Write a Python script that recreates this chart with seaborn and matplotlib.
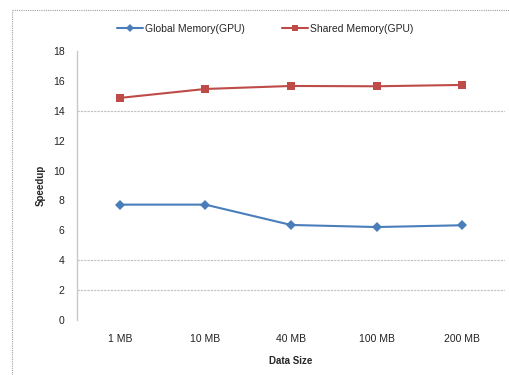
import matplotlib
matplotlib.use("Agg")
import matplotlib.pyplot as plt
import seaborn as sns
import pandas as pd
from matplotlib.lines import Line2D

sizes = ["1 MB", "10 MB", "40 MB", "100 MB", "200 MB"]
global_mem = [7.72, 7.72, 6.36, 6.22, 6.34]
shared_mem = [14.86, 15.46, 15.66, 15.64, 15.73]
y_ticks = [0, 2, 4, 6, 8, 10, 12, 14, 16, 18]

df = pd.DataFrame({
    "Data Size": sizes * 2,
    "Speedup": global_mem + shared_mem,
    "series": ["Global Memory(GPU)"] * 5 + ["Shared Memory(GPU)"] * 5,
})

sns.set_style("white")
plt.rcParams["font.family"] = ["Liberation Sans", "DejaVu Sans"]

fig = plt.figure(figsize=(5.1, 3.75), dpi=100)
ax = fig.add_axes([77 / 510, 1 - 320 / 375, 428 / 510, 269 / 375])

palette = {"Global Memory(GPU)": "#4a7ebb", "Shared Memory(GPU)": "#be4b48"}
sns.lineplot(data=df, x="Data Size", y="Speedup", hue="series", style="series",
             markers={"Global Memory(GPU)": "D", "Shared Memory(GPU)": "s"},
             dashes=False, palette=palette, markersize=5.5, linewidth=1.5,
             markeredgewidth=0, sort=False, ax=ax)

for v in [2, 4, 14]:
    ax.axhline(v, color="#c0c0c0", linewidth=0.8, linestyle=(0, (2, 1)), zorder=0)

ax.set_ylim(0, 18)
ax.set_yticks(y_ticks)
ax.set_xlim(-0.5, len(sizes) - 0.5)
ax.tick_params(axis="both", labelsize=7.5, length=0, colors="#222222")
ax.tick_params(axis="y", pad=9)
ax.tick_params(axis="x", pad=10)
ax.set_xlabel("Data Size", fontsize=7, fontweight="bold", labelpad=9)
ax.set_ylabel("Speedup", fontsize=7, fontweight="bold", labelpad=5)

for s in ["top", "right", "bottom"]:
    ax.spines[s].set_visible(False)
ax.spines["left"].set_color("#c8c8c8")
ax.spines["left"].set_linewidth(1)

handles, labels = ax.get_legend_handles_labels()
ax.legend(handles, labels, loc="center", bbox_to_anchor=(0.44, 1.083), ncol=2,
          frameon=False, fontsize=7.5, handlelength=2.5, columnspacing=3.5,
          handletextpad=0.2, markerscale=0.8)

# dotted outer border (top and left only)
border = dict(transform=fig.transFigure, color="#a0a0a0", linewidth=0.8,
              linestyle=(0, (1, 1)))
fig.lines.append(Line2D([12 / 510, 1], [1 - 10 / 375] * 2, **border))
fig.lines.append(Line2D([12 / 510] * 2, [0, 1 - 10 / 375], **border))

fig.savefig("out.png", dpi=100)
